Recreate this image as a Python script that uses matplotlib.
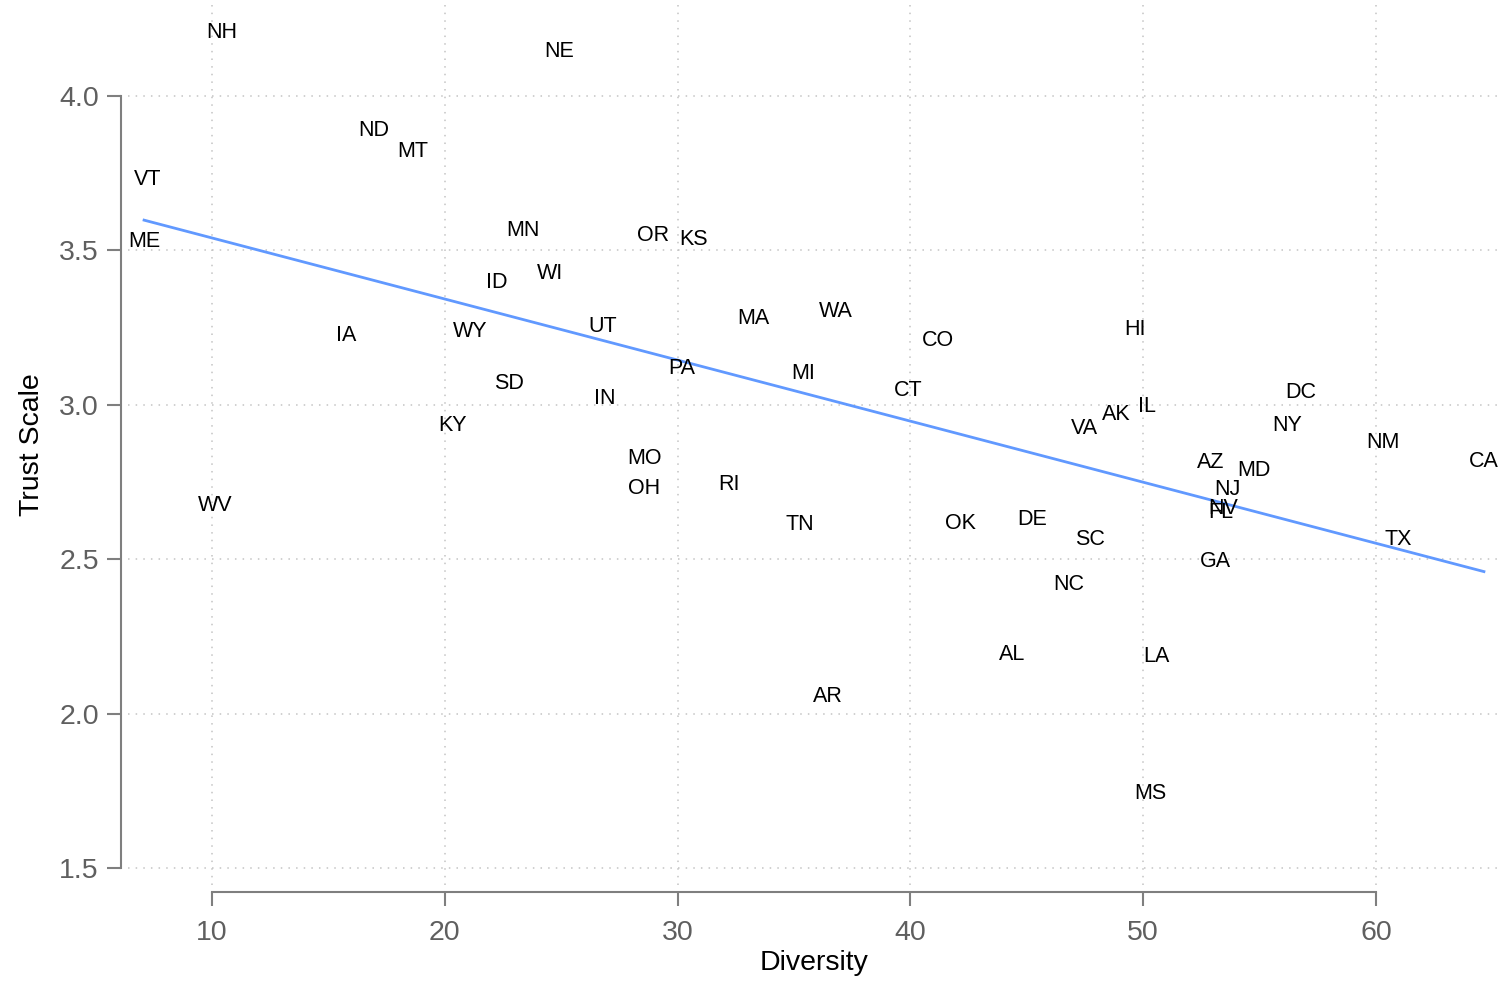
import numpy as np
import matplotlib
matplotlib.use("Agg")
import matplotlib.pyplot as plt

states = ["NH", "NE", "ND", "MT", "VT", "ME", "MN", "OR", "KS", "ID",
          "WI", "IA", "WY", "UT", "MA", "WA", "CO", "HI", "PA", "MI",
          "CT", "SD", "IN", "KY", "DC", "IL", "AK", "VA", "NY", "NM",
          "CA", "MO", "OH", "RI", "WV", "AZ", "MD", "NJ", "FL", "NV",
          "TN", "OK", "DE", "SC", "TX", "GA", "NC", "AL", "LA", "AR", "MS"]
diversity = [10.40, 24.91, 16.96, 18.63, 7.22, 7.08, 23.37, 28.93, 30.70, 22.22,
             24.53, 15.76, 21.07, 26.77, 33.24, 36.79, 41.19, 49.65, 30.20, 35.39,
             39.90, 22.74, 26.88, 20.33, 56.79, 50.18, 48.83, 47.50, 56.19, 60.31,
             64.64, 28.59, 28.54, 32.20, 10.13, 52.90, 54.77, 53.63, 53.34, 53.44,
             35.26, 42.16, 45.25, 47.73, 60.97, 53.11, 46.79, 44.38, 50.55, 36.47, 50.29]
trust = [4.214, 4.152, 3.897, 3.828, 3.737, 3.536, 3.573, 3.558, 3.545, 3.404,
         3.434, 3.233, 3.245, 3.262, 3.288, 3.310, 3.215, 3.252, 3.127, 3.109,
         3.056, 3.077, 3.030, 2.942, 3.048, 3.002, 2.978, 2.931, 2.942, 2.886,
         2.825, 2.835, 2.738, 2.751, 2.682, 2.821, 2.794, 2.733, 2.659, 2.672,
         2.621, 2.625, 2.638, 2.571, 2.573, 2.500, 2.427, 2.198, 2.193, 2.063, 1.749]

xticks = [10, 20, 30, 40, 50, 60]
yticks = [1.5, 2.0, 2.5, 3.0, 3.5, 4.0]

plt.rcParams['font.family'] = ['Liberation Sans', 'DejaVu Sans']

fig = plt.figure(figsize=(15, 9.81), dpi=100)
ax = fig.add_axes([128/1500, (981-885)/981, (1500-128)/1500, (885-5)/981])

x = np.array(diversity)
y = np.array(trust)
slope, intercept = np.polyfit(x, y, 1)
xs = np.array([x.min(), x.max()])
ax.plot(xs, intercept + slope*xs, color='#6199FF', lw=2.0, zorder=2)

for s, xi, yi in zip(states, diversity, trust):
    ax.text(xi, yi, s, ha='center', va='center_baseline', fontsize=15.5,
            color='black', zorder=3)

ax.set_xlim(6.39, 65.33)
ax.set_ylim(1.445, 4.295)
ax.set_xticks(xticks)
ax.set_yticks(yticks)
ax.set_xticklabels([str(t) for t in xticks])
ax.set_yticklabels([f"{t:.1f}" for t in yticks])

ax.grid(True, linestyle=(0, (1, 4)), color='#c4c4c4', lw=1.1, zorder=0)
ax.set_axisbelow(True)

for sp in ['top', 'right']:
    ax.spines[sp].set_visible(False)
for sp in ['left', 'bottom']:
    ax.spines[sp].set_position(('outward', 5))
    ax.spines[sp].set_color('#7f7f7f')
    ax.spines[sp].set_linewidth(1.5)
ax.spines['left'].set_bounds(1.5, 4.0)
ax.spines['bottom'].set_bounds(10, 60)

ax.tick_params(axis='both', length=10, width=1.5, color='#7f7f7f',
               labelcolor='#5f5f5f', labelsize=20.5)
ax.tick_params(axis='y', pad=6)
ax.tick_params(axis='x', pad=10)

ax.set_xlabel('Diversity', fontsize=20.5, color='black', labelpad=3)
ax.set_ylabel('Trust Scale', fontsize=20.5, color='black', labelpad=10)

fig.savefig('out.png', dpi=100)
